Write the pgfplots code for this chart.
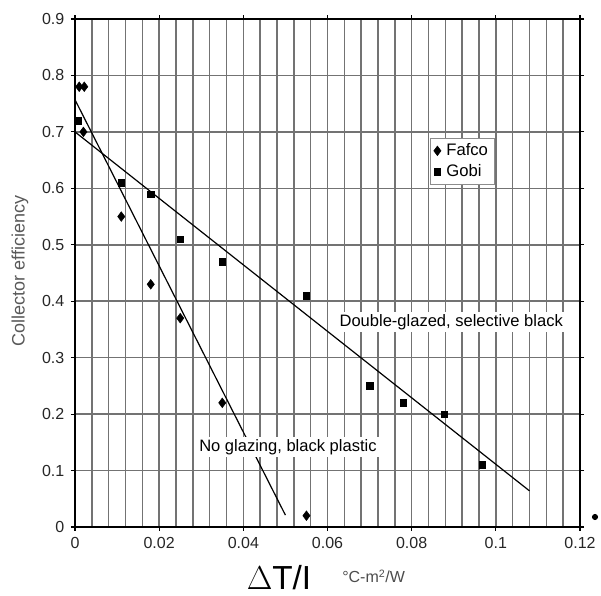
\documentclass[border=0pt]{standalone}
\usepackage{pgfplots}
\pgfplotsset{compat=1.18}
\usepackage{fontspec}
\setmainfont{Liberation Sans}
\begin{document}
\begin{tikzpicture}
\path (-56.25pt,-51.75pt) rectangle (394.5pt,395.25pt);
\begin{axis}[
  at={(0,0)}, anchor=south west,
  scale only axis, width=378.75pt, height=381pt,
  xmin=0, xmax=0.12, ymin=0, ymax=0.9,
  xtick={0,0.02,0.04,0.06,0.08,0.1,0.12},
  minor xtick={0.004,0.008,0.012,0.016,0.024,0.028,0.032,0.036,0.044,0.048,0.052,0.056,0.064,0.068,0.072,0.076,0.084,0.088,0.092,0.096,0.104,0.108,0.112,0.116},
  ytick={0,0.1,0.2,0.3,0.4,0.5,0.6,0.7,0.8,0.9},
  xticklabels={0,0.02,0.04,0.06,0.08,0.1,0.12},
  yticklabels={0,0.1,0.2,0.3,0.4,0.5,0.6,0.7,0.8,0.9},
  grid=both,
  major grid style={black!55, line width=1.1pt},
  minor grid style={black!55, line width=1.1pt},
  tick align=outside, major tick length=3pt, minor tick length=0pt,
  tick style={black, line width=0.8pt},
  axis line style={black, line width=1.1pt},
  tick label style={font=\fontsize{12}{14}\selectfont, text=black!85},
  yticklabel style={xshift=-1.5pt},
  xticklabel style={yshift=-1.5pt},
  /pgf/number format/assume math mode=true,
  clip=false,
  legend style={at={(axis cs:0.0844,0.69)}, anchor=north west, draw=black!45, fill=white,
    font=\fontsize{12.5}{14}\selectfont, inner sep=2.5pt, row sep=1pt, /tikz/column sep=2pt, cells={anchor=west}},
  legend cell align=left,
]
\addplot[black, line width=0.9pt, forget plot] coordinates {(0,0.757) (0.050,0.021)};
\addplot[black, line width=0.9pt, forget plot] coordinates {(0,0.700) (0.108,0.064)};
\addplot[only marks, mark=diamond*, mark size=3.6pt, black] coordinates {
 (0.001,0.78) (0.0022,0.78) (0.002,0.70) (0.011,0.55) (0.018,0.43) (0.025,0.37) (0.035,0.22) (0.055,0.02)};
\addlegendentry{Fafco}
\addplot[only marks, mark=square*, mark size=2.4pt, black] coordinates {
 (0.0008,0.72) (0.011,0.61) (0.018,0.59) (0.025,0.51) (0.035,0.47) (0.055,0.41) (0.070,0.25) (0.078,0.22) (0.0877,0.20) (0.0968,0.11)};
\addlegendentry{Gobi}
\node[fill=white, inner sep=1.5pt, font=\fontsize{12.4}{14}\selectfont] at (axis cs:0.0506,0.142) {No glazing, black plastic};
\node[fill=white, inner sep=1.5pt, font=\fontsize{12.4}{14}\selectfont] at (axis cs:0.0894,0.363) {Double-glazed, selective black};
\end{axis}
\node[rotate=90, text=black!65, font=\fontsize{13.5}{15}\selectfont] at (-41.25pt,192pt) {Collector efficiency};
\node[font=\fontsize{25}{27}\selectfont, inner sep=0pt] at (153pt,-38pt) {$\Delta$T/I};
\node[font=\fontsize{12}{14}\selectfont, text=black!70, inner sep=0pt] at (224pt,-37pt) {°C-m\textsuperscript{2}/W};
\fill[black] (390pt,7.5pt) circle (2.3pt);
\end{tikzpicture}
\end{document}
